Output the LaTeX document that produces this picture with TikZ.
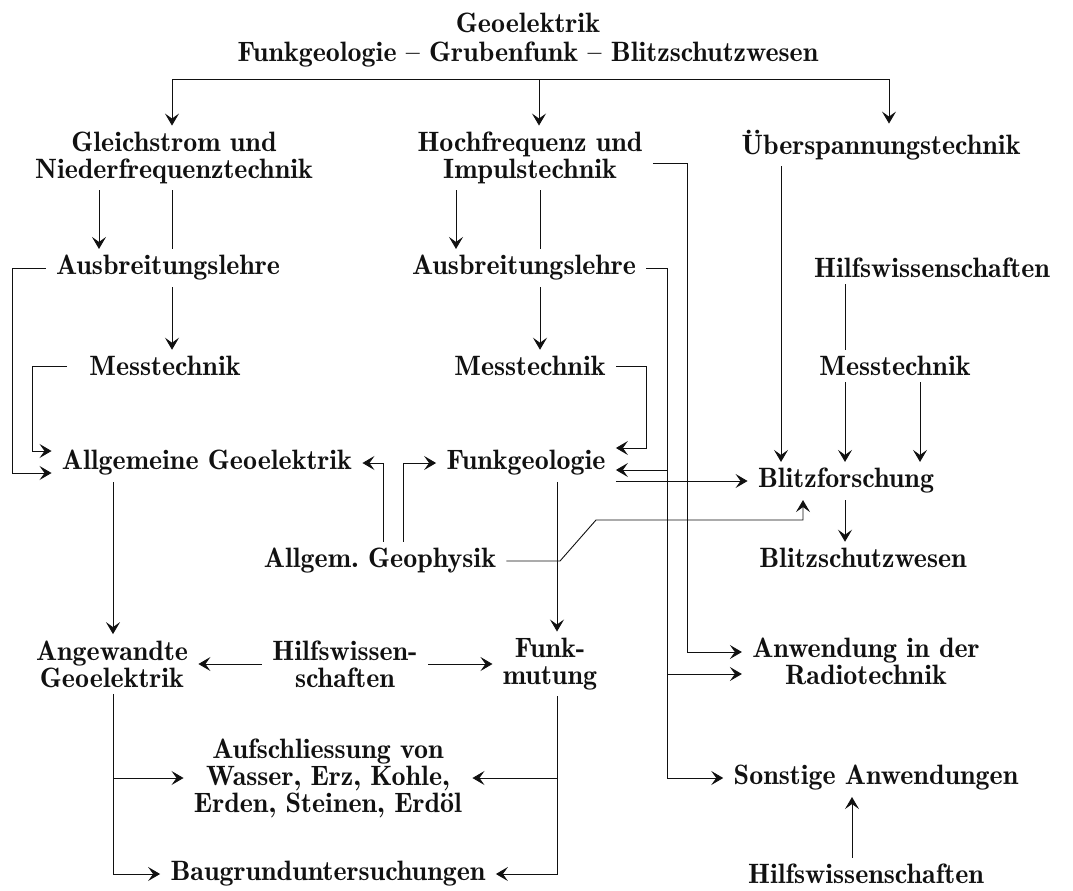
\documentclass[tikz,border=0pt]{standalone}
\usepackage{fontspec}
\usepackage{xcolor}
\usepackage{tikz}
\usetikzlibrary{arrows.meta,calc}
\definecolor{inkblack}{HTML}{111111}
\newfontfamily\diagfont{Latin Modern Roman Demi}

\begin{document}
\begin{tikzpicture}[x=1pt,y=-1pt,line width=0.9pt,draw=inkblack,
  lbl/.style={inner xsep=10pt, inner ysep=6pt, align=center, text=inkblack,
    font=\diagfont\fontsize{28}{27}\selectfont},
  arr/.style={-{Stealth[length=12pt,width=14pt,inset=5pt]}}]
  \useasboundingbox (0,0) rectangle (1073,891);
  % title
  \node[lbl] (ttl) at (528,23) {Geoelektrik};
  \node[lbl] (sub) at (528,55) {Funkgeologie \textendash{} Grubenfunk \textendash{} Blitzschutzwesen};
  % main branches
  \node[lbl] (gleich) at (174,158) {Gleichstrom und\\Niederfrequenztechnik};
  \node[lbl] (hoch) at (530,158) {Hochfrequenz und\\Impulstechnik};
  \node[lbl] (ueber) at (881,145) {Überspannungstechnik};
  % second row
  \node[lbl] (ausL) at (168,268) {Ausbreitungslehre};
  \node[lbl] (ausM) at (524,268) {Ausbreitungslehre};
  \node[lbl] (hilfsR) at (932,268) {Hilfswissenschaften};
  \node[lbl] (messL) at (165,366) {Messtechnik};
  \node[lbl] (messM) at (530,366) {Messtechnik};
  \node[lbl] (messR) at (895,366) {Messtechnik};
  % middle row
  \node[lbl] (allgL) at (207,463) {Allgemeine Geoelektrik};
  \node[lbl] (funkgeo) at (526,463) {Funkgeologie};
  \node[lbl] (blitzf) at (846,481) {Blitzforschung};
  \node[lbl] (geoph) at (380,561) {Allgem.\ Geophysik};
  \node[lbl] (blitzs) at (863,558) {Blitzschutzwesen};
  % applications
  \node[lbl] (angew) at (112,664) {Angewandte\\Geoelektrik};
  \node[lbl] (hilfsM) at (345,664) {Hilfswissen-\\schaften};
  \node[lbl] (funkm) at (550,664) {Funk-\\mutung};
  \node[lbl] (anwend) at (866,661) {Anwendung in der\\Radiotechnik};
  \node[lbl] (aufschl) at (328,778) {Aufschliessung von\\Wasser, Erz, Kohle,\\Erden, Steinen, Erdöl};
  \node[lbl] (sonst) at (876,778) {Sonstige Anwendungen};
  \node[lbl] (baugrund) at (328,874) {Baugrunduntersuchungen};
  \node[lbl] (hilfsB) at (866,874) {Hilfswissenschaften};

  % double arrow ends
  \coordinate (agA) at ([yshift=12pt]allgL.west);
  \coordinate (agB) at ([yshift=-10pt]allgL.west);
  \coordinate (fgA) at ([yshift=15pt]funkgeo.east);
  \coordinate (fgB) at ([yshift=-7pt]funkgeo.east);
  \coordinate (anA) at ([yshift=9pt]anwend.west);
  \coordinate (anB) at ([yshift=-13pt]anwend.west);
  \coordinate (hoE) at ([yshift=-5pt]hoch.east);

  % bracket under title
  \draw (172,79) -- (889,79);
  \foreach \x/\n in {172/gleich, 539/hoch, 889/ueber}{
    \draw[arr] (\x,79) -- (\x,0 |- \n.north);
  }
  % left column
  \draw[arr] (99,0 |- gleich.south) -- (99,0 |- ausL.north);
  \draw (172,0 |- gleich.south) -- (172,0 |- ausL.north);
  \draw[arr] (172,0 |- ausL.south) -- (172,0 |- messL.north);
  \draw[arr] (ausL.west) -- (12,0 |- ausL.west) |- (agB);
  \draw[arr, shorten <=12pt] (messL.west) -- (32,0 |- messL.west) |- (agA);
  % middle column
  \draw[arr] (456,0 |- hoch.south) -- (456,0 |- ausM.north);
  \draw (540,0 |- hoch.south) -- (540,0 |- ausM.north);
  \draw[arr] (540,0 |- ausM.south) -- (540,0 |- messM.north);
  \draw[arr] (messM.east) -- (646,0 |- messM.east) |- (fgA);
  \draw (ausM.east) -- (667,0 |- ausM.east);
  \draw[arr] (667,0 |- ausM.east) |- (sonst.west);
  \draw[arr] (667,0 |- fgB) -- (fgB);
  \draw[arr] (667,0 |- anB) -- (anB);
  \draw[arr] (hoE) -- (687,0 |- hoE) |- (anA);
  % right column
  \draw[arr] (781,0 |- ueber.south) -- (781,0 |- blitzf.north);
  \draw (845,0 |- hilfsR.south) -- (845,0 |- messR.north);
  \draw[arr] (845,0 |- messR.south) -- (845,0 |- blitzf.north);
  \draw[arr] (920,0 |- messR.south) -- (920,0 |- blitzf.north);
  \draw[arr] (845,0 |- blitzf.south) -- (845,0 |- blitzs.north);
  \draw[arr] (funkgeo.east |- blitzf.west) -- (blitzf.west);
  % geophysik
  \draw[arr] (383,0 |- geoph.north) |- (allgL.east);
  \draw[arr] (403,0 |- geoph.north) |- (funkgeo.west);
  \draw[arr] (geoph.east) -- (560,0 |- geoph.east) -- (596,520) -| (803,0 |- blitzf.south);
  % lower part
  \draw[arr] (113,0 |- allgL.south) -- (113,0 |- angew.north);
  \draw[arr] (557,0 |- funkgeo.south) -- (557,0 |- funkm.north);
  \draw[arr] (hilfsM.west) -- (angew.east);
  \draw[arr] (hilfsM.east) -- (funkm.west);
  \draw[arr] (113,0 |- angew.south) |- (baugrund.west);
  \draw[arr] (113,0 |- aufschl.west) -- (aufschl.west);
  \draw[arr] (557,0 |- funkm.south) |- (baugrund.east);
  \draw[arr] (557,0 |- aufschl.east) -- (aufschl.east);
  \draw[arr] (852,0 |- hilfsB.north) -- (852,0 |- sonst.south);
\end{tikzpicture}
\end{document}
